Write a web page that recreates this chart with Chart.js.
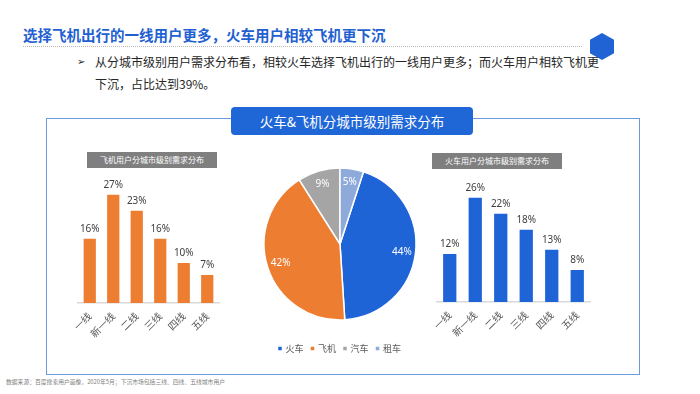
<!DOCTYPE html>
<html><head><meta charset="utf-8">
<script src="https://cdn.jsdelivr.net/npm/chart.js@4.4.0/dist/chart.umd.min.js"></script>
<style>
html,body{margin:0;padding:0;}
body{width:700px;height:394px;background:#fff;position:relative;overflow:hidden;font-family:"Noto Sans CJK SC","Noto Sans",sans-serif;}
.abs{position:absolute;white-space:nowrap;}
#title{left:23px;top:25px;font-size:14.5px;font-weight:bold;color:#1f61d0;line-height:19px;}
#dots{left:23px;top:46px;width:559px;height:0;border-top:1px dotted #b8b8b8;}
#hex{left:590px;top:33px;width:24px;height:27px;background:#1f63d4;clip-path:polygon(50% 0,100% 25%,100% 75%,50% 100%,0 75%,0 25%);}
#bullet{left:77px;top:52px;font-size:10px;line-height:20px;color:#262626;font-family:"DejaVu Sans",sans-serif;}
#body{left:95px;top:51px;font-size:12px;line-height:21.6px;color:#262626;}
#frame{left:46px;top:118px;width:592px;height:255px;border:1px solid #6b9bdc;}
#pill{left:231px;top:107px;width:242px;height:28px;border-radius:4px;background:#1f66d6;color:#fff;font-size:13.5px;line-height:28px;text-align:center;}
.sub{height:16px;width:130px;background:#7f7f7f;color:#fff;font-size:8px;line-height:16px;text-align:center;}
#subL{left:87px;top:152px;}
#subR{left:432px;top:153px;}
#foot{left:6px;top:378px;font-size:5.8px;line-height:8px;color:#7f7f7f;}
canvas{position:absolute;}
</style></head>
<body>
<div id="title" class="abs">选择飞机出行的一线用户更多，火车用户相较飞机更下沉</div>
<div id="dots" class="abs"></div>
<div id="hex" class="abs"></div>
<div id="bullet" class="abs">➢</div>
<div id="body" class="abs">从分城市级别用户需求分布看，相较火车选择飞机出行的一线用户更多；而火车用户相较飞机更<br>下沉，占比达到39%。</div>
<div id="frame" class="abs"></div>
<div id="pill" class="abs">火车&amp;飞机分城市级别需求分布</div>
<div id="subL" class="abs sub">飞机用户分城市级别需求分布</div>
<div id="subR" class="abs sub">火车用户分城市级别需求分布</div>
<div id="foot" class="abs">数据来源：百度搜索用户画像，2020年5月；下沉市场包括三线、四线、五线城市用户</div>
<canvas id="cL" width="179" height="173" style="left:50px;top:170px"></canvas>
<canvas id="cP" width="200" height="215" style="left:240px;top:150px"></canvas>
<canvas id="cR" width="190" height="172" style="left:410px;top:170px"></canvas>
<script>
const cityTiers = ['一线','新一线','二线','三线','四线','五线'];
const planeShare = [16,27,23,16,10,7];
const trainShare = [12,26,22,18,13,8];
const modeLabels = ['火车','飞机','汽车','租车'];
const modeShare = [44,42,9,5];

Chart.defaults.font.family = '"Noto Sans CJK SC","Noto Sans",sans-serif';

const barLabels = {
  id:'barLabels',
  afterDatasetsDraw(chart){
    const ctx = chart.ctx;
    const meta = chart.getDatasetMeta(0);
    const data = chart.data.datasets[0].data;
    ctx.save();
    ctx.font = '10px "Noto Sans",sans-serif';
    ctx.fillStyle = '#404040';
    ctx.textAlign = 'center';
    ctx.textBaseline = 'middle';
    meta.data.forEach((el,i)=>{ ctx.fillText(data[i]+'%', el.x, el.y-10); });
    ctx.restore();
  }
};

const pieLabels = {
  id:'pieLabels',
  afterDatasetsDraw(chart){
    const ctx = chart.ctx;
    const meta = chart.getDatasetMeta(0);
    const data = chart.data.datasets[0].data;
    ctx.save();
    ctx.font = '10px "Noto Sans",sans-serif';
    ctx.fillStyle = '#ffffff';
    ctx.textAlign = 'center';
    ctx.textBaseline = 'middle';
    meta.data.forEach((el,i)=>{
      const a = (el.startAngle+el.endAngle)/2;
      const r = el.outerRadius*0.82;
      ctx.fillText(data[i]+'%', el.x+Math.cos(a)*r, el.y+Math.sin(a)*r);
    });
    ctx.restore();
  }
};

function barChart(id, values, color, pad){
  return new Chart(document.getElementById(id), {
    type:'bar',
    data:{labels:cityTiers, datasets:[{data:values, backgroundColor:color, barPercentage:0.52, categoryPercentage:1}]},
    options:{
      responsive:false, animation:false, events:[],
      layout:{padding:pad},
      plugins:{legend:{display:false}, tooltip:{enabled:false}},
      scales:{
        x:{grid:{display:false, drawTicks:false}, border:{display:true,color:'#d9d9d9',width:1.5},
           ticks:{minRotation:45,maxRotation:45,padding:7,color:'#595959',font:{size:10}},
           afterFit(scale){ scale.height = 36; }},
        y:{display:false,min:0,max:30}
      }
    },
    plugins:[barLabels]
  });
}

barChart('cL', planeShare, '#ed7d31', {left:28,right:10,top:12.7,bottom:4});
barChart('cR', trainShare, '#1f64d6', {left:27,right:10,top:11.7,bottom:4});

new Chart(document.getElementById('cP'), {
  type:'pie',
  data:{labels:modeLabels, datasets:[{data:modeShare, backgroundColor:['#1f64d6','#ed7d31','#a5a5a5','#8eaadb'], borderColor:'#ffffff', borderWidth:1.5, hoverOffset:0, radius:76}]},
  options:{
    responsive:false, animation:false, events:[],
    rotation:18,
    layout:{padding:{top:2,bottom:2}},
    plugins:{
      tooltip:{enabled:false},
      legend:{position:'bottom', labels:{usePointStyle:true, pointStyle:'rect', boxWidth:2, boxHeight:5, padding:8, color:'#595959', font:{size:9}}}
    }
  },
  plugins:[pieLabels]
});
</script>
</body></html>
